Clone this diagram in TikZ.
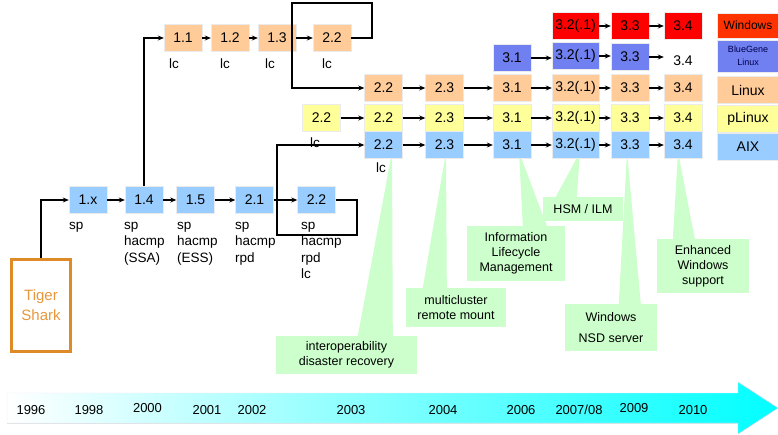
\documentclass[tikz,border=0pt]{standalone}
\usepackage{fontspec}
\setmainfont{Liberation Sans}
\usetikzlibrary{arrows.meta,positioning,calc}
\definecolor{linuxc}{HTML}{FFCC99}
\definecolor{plinuxc}{HTML}{FFFF99}
\definecolor{aixc}{HTML}{99CCFF}
\definecolor{bluegenec}{HTML}{7080F0}
\definecolor{winc}{HTML}{FF0000}
\definecolor{legwinc}{HTML}{FF3300}
\definecolor{notec}{HTML}{CCFFCC}
\definecolor{tigerc}{HTML}{DE8A26}
\definecolor{tigertext}{HTML}{E8963A}

\begin{document}
\begin{tikzpicture}[x=1pt,y=-1pt,>={Stealth[length=6pt,width=5pt]},
  ver/.style={draw=black!8,minimum width=38pt,minimum height=27pt,inner sep=0pt,
    font=\fontsize{14}{16}\selectfont},
  verw/.style={ver,minimum width=47pt},
  leg/.style={ver,minimum width=62pt},
  lab/.style={inner sep=0pt,align=left,font=\fontsize{13.5}{16.5}\selectfont},
  note/.style={fill=notec,inner sep=0pt,align=center,font=\fontsize{12.5}{15}\selectfont},
  year/.style={inner sep=0pt,font=\fontsize{13}{14}\selectfont},
  link/.style={->,line width=1.2pt}]
\useasboundingbox (0,0) rectangle (778,434);

% time axis
\fill[left color=white,right color=cyan,draw=blue!8]
  (7,393) -- (738,393) -- (738,382) -- (778,408) -- (738,434) -- (738,423) -- (7,423) -- cycle;
\node[year] (y96) at (31,410) {1996};
\node[year] (y98) at (89,410) {1998};
\node[year] (y00) at (147.5,408) {2000};
\node[year] (y01) at (207,410) {2001};
\node[year] (y02) at (252,410) {2002};
\node[year] (y03) at (351,410) {2003};
\node[year] (y04) at (443,410) {2004};
\node[year] (y06) at (521,410) {2006};
\node[year] (y07) at (579,410) {2007/08};
\node[year] (y09) at (634,408) {2009};
\node[year] (y10) at (693,410) {2010};

% callouts
\node[note,minimum width=141pt,minimum height=38pt] (ci) at (346.5,355) {interoperability\\disaster recovery};
\node[note,minimum width=100pt,minimum height=39pt] (cm) at (456,307.5) {multicluster\\remote mount};
\node[note,minimum width=98pt,minimum height=55pt] (cl) at (516,253.5) {Information\\Lifecycle\\Management};
\node[note,minimum width=80pt,minimum height=24pt] (ch) at (583,209) {HSM / ILM};
\node[note,minimum width=92pt,minimum height=47pt] (cw) at (611,327.5) {Windows\\[6pt]NSD server};
\node[note,minimum width=92pt,minimum height=54pt] (ce) at (703,266) {Enhanced\\Windows\\support};
\coordinate (ti) at (392,152);
\coordinate (tm) at (446,152);
\coordinate (tl) at (519,152);
\coordinate (th) at (580,152);
\coordinate (tw) at (627,152);
\coordinate (te) at (678,152);
\fill[notec] ([xshift=82]ci.north west) -- (ti) -- ([xshift=117]ci.north west) -- cycle;
\fill[notec] ([xshift=17]cm.north west) -- (tm) -- ([xshift=41]cm.north west) -- cycle;
\fill[notec] ([xshift=56]cl.north west) -- (tl) -- ([xshift=80]cl.north west) -- cycle;
\fill[notec] ([xshift=13]ch.north west) -- (th) -- ([xshift=34]ch.north west) -- cycle;
\fill[notec] ([xshift=54]cw.north west) -- (tw) -- ([xshift=76]cw.north west) -- cycle;
\fill[notec] ([xshift=16]ce.north west) -- (te) -- ([xshift=38]ce.north west) -- cycle;

% Tiger Shark
\node[draw=tigerc,line width=3pt,minimum width=59pt,minimum height=92pt,align=center,
  text=tigertext,font=\fontsize{15}{20}\selectfont] (ts) at (41,305.5) {Tiger\\Shark};

% early releases
\node[ver,fill=aixc] (a1x) at (88,200) {1.x};
\node[ver,fill=aixc] (a14) at (144,200) {1.4};
\node[ver,fill=aixc] (a15) at (195.5,200) {1.5};
\node[ver,fill=aixc] (a21) at (254.5,200) {2.1};
\node[ver,fill=aixc] (a22) at (316.5,200) {2.2};
\node[lab,anchor=north west] (s1x) at (69,222) {sp};
\node[lab,anchor=north west] (s14) at (124,222) {sp\\hacmp\\(SSA)};
\node[lab,anchor=north west] (s15) at (177,222) {sp\\hacmp\\(ESS)};
\node[lab,anchor=north west] (s21) at (235,222) {sp\\hacmp\\rpd};
\node[lab,anchor=north west] (s22) at (301,222) {sp\\hacmp\\rpd\\lc};

\node[ver,fill=linuxc] (n11) at (183,38) {1.1};
\node[ver,fill=linuxc] (n12) at (230,38) {1.2};
\node[ver,fill=linuxc] (n13) at (277,38) {1.3};
\node[ver,fill=linuxc] (n22) at (332,38) {2.2};
\node[lab,anchor=north] (c11) at (174,59) {lc};
\node[lab,anchor=north] (c12) at (225,59) {lc};
\node[lab,anchor=north] (c13) at (270,59) {lc};
\node[lab,anchor=north] (c22) at (327,59) {lc};

% later releases
\node[verw,fill=winc] (w32) at (575.5,26) {3.2(.1)};
\node[ver,fill=winc] (w33) at (630,26) {3.3};
\node[ver,fill=winc] (w34) at (683,26) {3.4};

\node[ver,fill=bluegenec] (b31) at (512,58) {3.1};
\node[verw,fill=bluegenec] (b32) at (575.5,56) {3.2(.1)};
\node[ver,fill=bluegenec] (b33) at (630,57) {3.3};
\node[ver,draw=none] (b34) at (683,61) {3.4};

\node[ver,fill=linuxc] (l22) at (383.5,88) {2.2};
\node[ver,fill=linuxc] (l23) at (444.5,88) {2.3};
\node[ver,fill=linuxc] (l31) at (512,88) {3.1};
\node[verw,fill=linuxc] (l32) at (575.5,88) {3.2(.1)};
\node[ver,fill=linuxc] (l33) at (630,88) {3.3};
\node[ver,fill=linuxc] (l34) at (683,88) {3.4};

\node[ver,fill=plinuxc] (p22s) at (321.5,118) {2.2};
\node[lab,anchor=north] (cp22) at (315,138) {lc};
\node[ver,fill=plinuxc] (p22) at (383.5,118) {2.2};
\node[ver,fill=plinuxc] (p23) at (444.5,118) {2.3};
\node[ver,fill=plinuxc] (p31) at (512,118) {3.1};
\node[verw,fill=plinuxc] (p32) at (575.5,118) {3.2(.1)};
\node[ver,fill=plinuxc] (p33) at (630,118) {3.3};
\node[ver,fill=plinuxc] (p34) at (683,118) {3.4};

\node[ver,fill=aixc] (x22) at (383.5,145) {2.2};
\node[ver,fill=aixc] (x23) at (444.5,145) {2.3};
\node[ver,fill=aixc] (x31) at (512,145) {3.1};
\node[verw,fill=aixc] (x32) at (575.5,145) {3.2(.1)};
\node[ver,fill=aixc] (x33) at (630,145) {3.3};
\node[ver,fill=aixc] (x34) at (683,145) {3.4};
\node[lab,anchor=north] (cx22) at (381,163) {lc};

% legend
\node[leg,fill=legwinc,minimum height=25pt,font=\fontsize{12}{13}\selectfont] (gw) at (748,25.5) {Windows};
\node[leg,fill=bluegenec,minimum height=32pt,align=center,text=blue!30!black,
  font=\fontsize{9}{13}\selectfont] (gb) at (748,56) {BlueGene\\Linux};
\node[leg,fill=linuxc,font=\fontsize{14}{15}\selectfont] (gl) at (748,90) {Linux};
\node[leg,fill=plinuxc,font=\fontsize{14}{15}\selectfont] (gp) at (748,119) {pLinux};
\node[leg,fill=aixc,font=\fontsize{14}{15}\selectfont] (ga) at (748,146.5) {AIX};

% connectors
\draw[link] (ts.north) |- (a1x.west);
\draw[link] (a1x) -- (a14);
\draw[link] (a14) -- (a15);
\draw[link] (a15) -- (a21);
\draw[link] (a21) -- (a22);
\draw[link] (a14.north) |- (n11.west);
\draw[link] (n11) -- (n12);
\draw[link] (n12) -- (n13);
\draw[link] (n13) -- (n22);
\draw[link] (n22.east) -| (372,3) -- (292,3) |- (l22.west);
\draw[link] (a22.east) -| (357,235) -- (277,235) |- (x22.west);
\draw[link] (p22s) -- (p22);

\draw[link] (w32) -- (w33);
\draw[link] (w33) -- (w34);
\draw[link] (b31) -- (b31 -| b32.west);
\draw[link] (b32.east) -- (b32.east -| b33.west);
\draw[link] (b33.east) -- (b33.east -| b34.west);
\draw[link] (l22) -- (l23);
\draw[link] (l23) -- (l31);
\draw[link] (l31) -- (l32);
\draw[link] (l32) -- (l33);
\draw[link] (l33) -- (l34);
\draw[link] (p22) -- (p23);
\draw[link] (p23) -- (p31);
\draw[link] (p31) -- (p32);
\draw[link] (p32) -- (p33);
\draw[link] (p33) -- (p34);
\draw[link] (x22) -- (x23);
\draw[link] (x23) -- (x31);
\draw[link] (x31) -- (x32);
\draw[link] (x32) -- (x33);
\draw[link] (x33) -- (x34);
\end{tikzpicture}
\end{document}
